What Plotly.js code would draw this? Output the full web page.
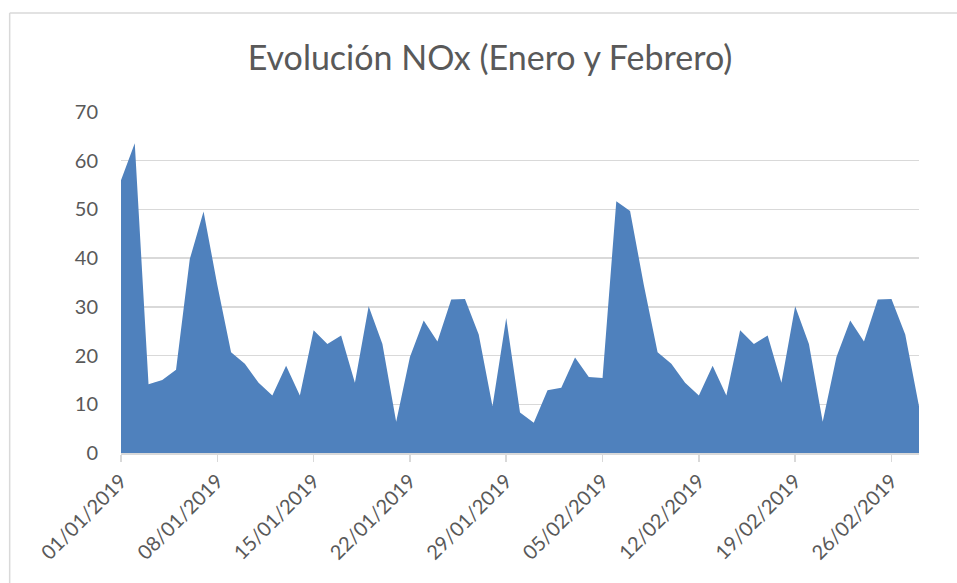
<!DOCTYPE html>
<html>
<head>
<meta charset="utf-8">
<script src="https://cdn.plot.ly/plotly-3.0.1.min.js"></script>
<style>
  html, body { margin: 0; padding: 0; background: #ffffff; }
  #chart { width: 957px; height: 583px; }
</style>
</head>
<body>
<div id="chart"></div>
<script>
// Categories: daily dates, 1 Jan 2019 to 28 Feb 2019
const startDate = '2019-01-01';
const endDate = '2019-02-28';
const dates = [];
for (let d = new Date(Date.UTC(2019, 0, 1)); d <= new Date(Date.UTC(2019, 1, 28)); d.setUTCDate(d.getUTCDate() + 1)) {
  dates.push(d.toISOString().slice(0, 10));
}

// NOx values
const noxValues = [
  56.0, 63.6, 14.1, 15.0, 17.1, 39.8, 49.6, 34.5, 20.7, 18.3,
  14.4, 11.8, 17.9, 11.8, 25.2, 22.4, 24.1, 14.4, 30.1, 22.4,
  6.4, 19.7, 27.2, 22.9, 31.5, 31.6, 24.3, 9.6, 27.7, 8.3,
  6.2, 12.9, 13.4, 19.6, 15.6, 15.4, 51.7, 49.7, 34.5, 20.7,
  18.3, 14.4, 11.8, 17.9, 11.8, 25.2, 22.4, 24.1, 14.4, 30.1,
  22.4, 6.4, 19.7, 27.2, 22.9, 31.5, 31.6, 24.3, 9.6
];

// Tick labels (every 7 days)
const tickDates = ['2019-01-01', '2019-01-08', '2019-01-15', '2019-01-22', '2019-01-29',
                   '2019-02-05', '2019-02-12', '2019-02-19', '2019-02-26'];
const tickLabels = ['01/01/2019', '08/01/2019', '15/01/2019', '22/01/2019', '29/01/2019',
                    '05/02/2019', '12/02/2019', '19/02/2019', '26/02/2019'];
const yTicks = [0, 10, 20, 30, 40, 50, 60, 70];

const titleText = 'Evolución NOx (Enero y Febrero)';

const textColor = '#595959';
const gridColor = '#d9d9d9';
const fontFamily = 'Lato, "Open Sans", sans-serif';

const trace = {
  x: dates,
  y: noxValues,
  type: 'scatter',
  mode: 'none',
  fill: 'tozeroy',
  fillcolor: '#4f81bd',
  hoverinfo: 'x+y'
};

const layout = {
  width: 957,
  height: 583,
  margin: { l: 121, r: 38, t: 112, b: 130, pad: 0 },
  paper_bgcolor: '#ffffff',
  plot_bgcolor: '#ffffff',
  showlegend: false,
  font: { family: fontFamily, color: textColor },
  title: {
    text: titleText,
    font: { family: fontFamily, size: 34, color: textColor },
    x: 0.512,
    xanchor: 'center',
    y: 0.9,
    yanchor: 'middle'
  },
  xaxis: {
    type: 'date',
    range: [startDate, endDate],
    tickmode: 'array',
    tickvals: tickDates,
    ticktext: tickLabels,
    tickangle: -45,
    ticks: 'outside',
    ticklen: 7,
    tickwidth: 1.5,
    tickcolor: gridColor,
    showgrid: false,
    showline: true,
    linecolor: gridColor,
    linewidth: 1.5,
    zeroline: false,
    tickfont: { family: fontFamily, size: 20, color: textColor },
    fixedrange: true
  },
  yaxis: {
    range: [0, 70],
    tickmode: 'array',
    tickvals: yTicks,
    ticks: '',
    ticklabelstandoff: 22,
    showgrid: true,
    gridcolor: gridColor,
    gridwidth: 1.5,
    zeroline: false,
    showline: false,
    tickfont: { family: fontFamily, size: 20, color: textColor },
    fixedrange: true
  },
  shapes: [
    { type: 'line', xref: 'paper', yref: 'paper', x0: -0.1395, x1: -0.1395, y0: 1.29, y1: -0.5,
      line: { color: gridColor, width: 1.5 } },
    { type: 'line', xref: 'paper', yref: 'paper', x0: -0.1395, x1: 1.2, y0: 1.29, y1: 1.29,
      line: { color: gridColor, width: 1.5 } }
  ]
};

Plotly.newPlot('chart', [trace], layout, { displayModeBar: false, staticPlot: true });
</script>
</body>
</html>
